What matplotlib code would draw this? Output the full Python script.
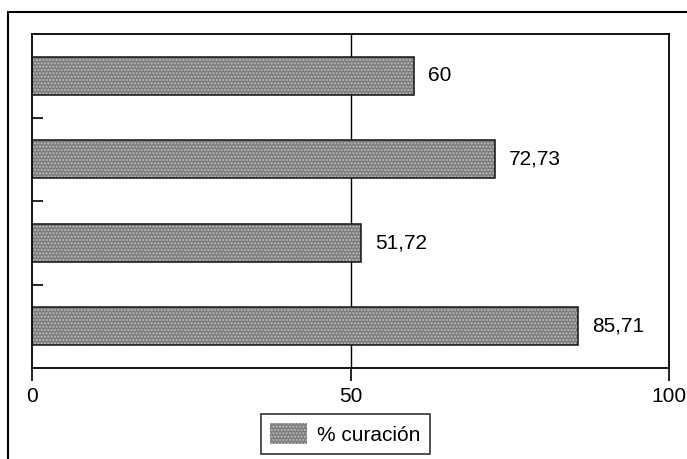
import numpy as np
import matplotlib.pyplot as plt
from matplotlib.patches import Rectangle, Patch

# valores de arriba hacia abajo
valores = [60, 72.73, 51.72, 85.71]
etiquetas = [f"{v:g}".replace(".", ",") for v in valores]
xticks = [0, 50, 100]
serie = "% curación"

plt.rcParams['font.family'] = ['Liberation Sans', 'DejaVu Sans']

fig = plt.figure(figsize=(6.87, 4.59), dpi=100)
ax = fig.add_axes([32/687, 1-368/459, 637/687, 334/459])

y = np.arange(len(valores))
gris = '#7c7c7c'
ax.barh(y, valores, height=0.455, color=gris, hatch='.....',
        edgecolor='#bdbdbd', linewidth=0, zorder=2)
bars = ax.barh(y, valores, height=0.455, fill=False,
               edgecolor='#111111', linewidth=1.1, zorder=3)
ax.bar_label(bars, labels=etiquetas, padding=10, fontsize=15)

ax.set_xlim(0, 100)
ax.set_ylim(len(valores) - 0.5, -0.5)
ax.axvline(50, color='black', lw=1.0, zorder=1)

ax.set_xticks(xticks)
ax.set_xticklabels([str(t) for t in xticks], fontsize=15)
ax.tick_params(axis='x', direction='out', length=9, width=1.2, pad=5)
ax.set_yticks(np.arange(0.5, len(valores) - 0.5, 1))
ax.set_yticklabels([])
ax.tick_params(axis='y', direction='in', length=8, width=1.2)
for s in ax.spines.values():
    s.set_linewidth(1.3)

# leyenda
h = Patch(facecolor=gris, hatch='.....', edgecolor='#bdbdbd', linewidth=0)
leg = fig.legend([h], [serie], loc='upper center',
                 bbox_to_anchor=(345.5/687, 1-414/459), fontsize=15,
                 frameon=True, fancybox=False, handlelength=1.75,
                 handleheight=1.15, borderpad=0.45, handletextpad=0.5,
                 borderaxespad=0)
leg.get_frame().set_edgecolor('black')
leg.get_frame().set_linewidth(1.2)

# marco exterior
fig.patches.append(Rectangle((8/687, -0.05), 1.0, 1-12/459 + 0.05,
                             transform=fig.transFigure, fill=False,
                             edgecolor='black', lw=1.5))

fig.savefig('out.png', dpi=100)
